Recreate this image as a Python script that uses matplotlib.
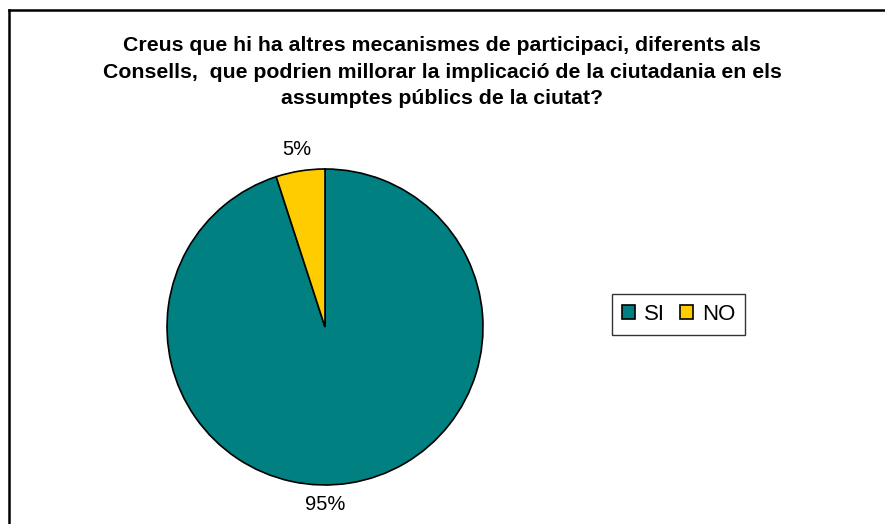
import matplotlib
matplotlib.use("Agg")
import matplotlib.pyplot as plt
from matplotlib.lines import Line2D

plt.rcParams['font.family'] = ['Liberation Sans', 'DejaVu Sans']

TITLE = ("Creus que hi ha altres mecanismes de participaci, diferents als\n"
         "Consells,  que podrien millorar la implicació de la ciutadania en els\n"
         "assumptes públics de la ciutat?")
labels = ["SI", "NO"]
values = [95, 5]
colors = ["#008080", "#FFCC00"]

W, H = 885, 524
fig = plt.figure(figsize=(W / 100, H / 100), dpi=100)

# chart frame (cut off at right and bottom in the original)
fig.add_artist(Line2D([9 / W, 9 / W], [0, 1 - 10 / H], color='black', lw=1.8))
fig.add_artist(Line2D([9 / W, 1], [1 - 10 / H, 1 - 10 / H], color='black', lw=1.8))

fig.text(442 / W, 1 - 72.5 / H, TITLE, ha='center', va='center', fontsize=15.3,
         fontweight='bold', linespacing=1.5)

r = 158
cx, cy = 325, 327
ax = fig.add_axes([(cx - r) / W, (H - cy - r) / H, 2 * r / W, 2 * r / H])
wedges, texts, autotexts = ax.pie(values, colors=colors, startangle=90, counterclock=False,
                                  autopct='%1.0f%%', pctdistance=1.14,
                                  wedgeprops=dict(edgecolor='black', linewidth=1.2),
                                  textprops=dict(fontsize=14.5))
# Excel puts the big slice label straight under the pie
autotexts[0].set_x(0)
ax.set_xlim(-1, 1)
ax.set_ylim(-1, 1)
ax.set_aspect('equal')

leg = fig.legend(wedges, labels, loc='center', bbox_to_anchor=(678.5 / W, 1 - 314.5 / H),
                 ncol=2, fontsize=16, frameon=True, fancybox=False, edgecolor='black',
                 handlelength=0.6, handleheight=0.6, handletextpad=0.4, columnspacing=0.65,
                 borderpad=0.45, borderaxespad=0)
leg.get_frame().set_linewidth(1.0)

fig.savefig("out.png", dpi=100)
